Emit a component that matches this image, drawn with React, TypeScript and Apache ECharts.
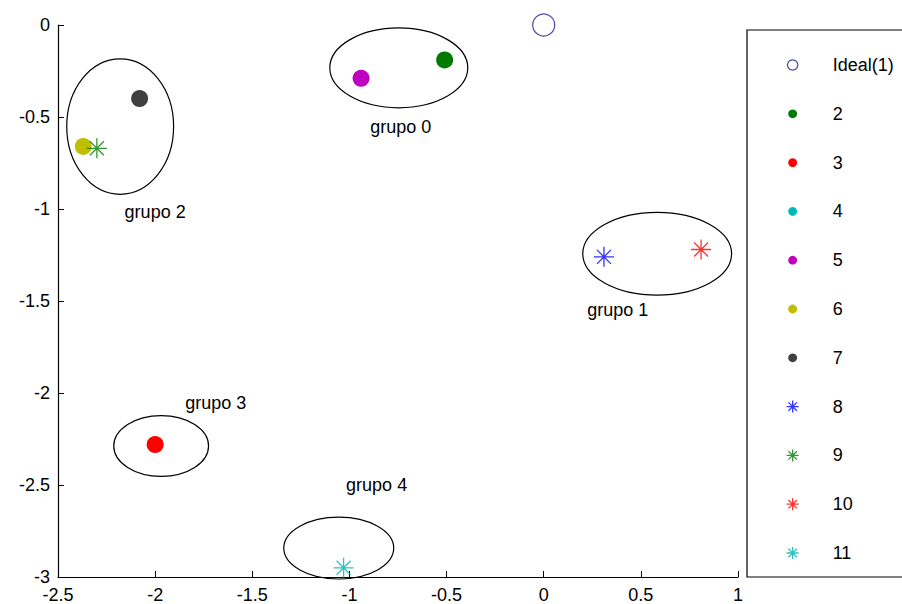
import React, { useEffect, useRef } from "react";
import * as echarts from "echarts";

const seriesNames = ["Ideal(1)", "2", "3", "4", "5", "6", "7", "8", "9", "10", "11"];
const seriesColors = ["#1c1c8c", "#007a00", "#ff0000", "#00b8b8", "#c000c0", "#bfbf00", "#404040", "#0000ff", "#007a00", "#ff0000", "#00b0b0"];
const seriesKinds = ["open", "dot", "dot", "dot", "dot", "dot", "dot", "star", "star", "star", "star"];
const seriesX = [0, -0.51, -2.0, -1.03, -0.94, -2.37, -2.08, 0.31, -2.3, 0.81, -1.03];
const seriesY = [0, -0.19, -2.28, -3.1, -0.29, -0.66, -0.4, -1.26, -0.67, -1.22, -2.95];

const groupLabels = ["grupo 0", "grupo 1", "grupo 2", "grupo 3", "grupo 4"];
const groupCx = [-0.746, 0.584, -2.18, -1.969, -1.055];
const groupCy = [-0.233, -1.243, -0.552, -2.288, -2.843];
const groupRx = [0.355, 0.383, 0.275, 0.244, 0.283];
const groupRy = [0.217, 0.225, 0.368, 0.165, 0.168];
const labelX = [-0.736, 0.381, -2.0, -1.688, -0.86];
const labelY = [-0.552, -1.548, -1.018, -2.052, -2.501];

const xTicks = { min: -2.5, max: 1, interval: 0.5 };
const yTicks = { min: -3, max: 0, interval: 0.5 };

const STAR = "path://M10,0L10,20M0,10L20,10M3,3L17,17M3,17L17,3";
const DOT_ICON = "path://M0,0M12,12M6,1.6A4.4,4.4,0,1,1,5.99,1.6Z";
const OPEN_ICON = "path://M0,0M12,12M6,0.8A5.2,5.2,0,1,1,5.99,0.8Z";
const FONT = "Liberation Sans";

export default function App() {
  const ref = useRef<HTMLDivElement>(null);
  useEffect(() => {
    if (!ref.current) return;
    const chart = echarts.init(ref.current, null, { renderer: "svg" });

    const pointSeries = seriesNames.map((name, i) => {
      const kind = seriesKinds[i];
      const color = seriesColors[i];
      const base: any = {
        name,
        type: "scatter",
        data: [[seriesX[i], seriesY[i]]],
        z: 3,
        clip: true,
      };
      if (kind === "open") {
        base.symbol = "circle";
        base.symbolSize = 22;
        base.itemStyle = { color: "rgba(0,0,0,0)", borderColor: color, borderWidth: 1.2 };
      } else if (kind === "dot") {
        base.symbol = "circle";
        base.symbolSize = 17;
        base.itemStyle = { color, opacity: 1 };
      } else {
        base.symbol = STAR;
        base.symbolSize = 20;
        base.itemStyle = { color: "rgba(0,0,0,0)", borderColor: color, borderWidth: 1.3 };
      }
      return base;
    });

    const legendData = seriesNames.map((name, i) => {
      const kind = seriesKinds[i];
      const color = seriesColors[i];
      if (kind === "open") return { name, icon: OPEN_ICON, itemStyle: { color: "rgba(0,0,0,0)", borderColor: color, borderWidth: 1.2 } };
      if (kind === "dot") return { name, icon: DOT_ICON, itemStyle: { color, borderWidth: 0 } };
      return { name, icon: STAR, itemStyle: { color: "rgba(0,0,0,0)", borderColor: color, borderWidth: 1.3 } };
    });

    const axisCommon = {
      type: "value" as const,
      axisLine: { show: true, onZero: false, lineStyle: { color: "#000", width: 1.2 } },
      axisTick: { show: true, inside: true, length: 6, lineStyle: { color: "#000" } },
      splitLine: { show: false },
      axisLabel: { color: "#000", fontSize: 18, fontFamily: FONT },
    };

    chart.setOption({
      animation: false,
      backgroundColor: "#fff",
      grid: { left: 58, right: 164, top: 25, bottom: 25 },
      xAxis: { ...axisCommon, ...xTicks, axisLabel: { ...axisCommon.axisLabel, margin: 9 } },
      yAxis: { ...axisCommon, ...yTicks, axisLabel: { ...axisCommon.axisLabel, margin: 8 } },
      graphic: [
        {
          type: "rect",
          shape: { x: 747, y: 30, width: 200, height: 547 },
          style: { fill: "#fff", stroke: "#000", lineWidth: 1.2 },
          z: 0,
        },
      ],
      legend: {
        orient: "vertical",
        left: 781,
        top: 51,
        itemWidth: 70,
        itemHeight: 12,
        itemGap: 30.8,
        textStyle: { color: "#000", fontSize: 18, fontFamily: FONT, lineHeight: 18 },
        data: legendData,
        selectedMode: false,
        z: 10,
      },
      series: [
        {
          name: "ellipses",
          type: "custom",
          z: 1,
          data: groupCx.map((cx, i) => [cx, groupCy[i], groupRx[i], groupRy[i]]),
          encode: { x: 0, y: 1 },
          renderItem: (params: any, api: any) => {
            const c = api.coord([api.value(0), api.value(1)]);
            const s = api.size([api.value(2), api.value(3)]);
            return {
              type: "ellipse",
              shape: { cx: c[0], cy: c[1], rx: s[0], ry: s[1] },
              style: { fill: "none", stroke: "#000", lineWidth: 1.2 },
            };
          },
        },
        {
          name: "labels",
          type: "custom",
          z: 2,
          data: labelX.map((x, i) => [x, labelY[i]]),
          encode: { x: 0, y: 1 },
          renderItem: (params: any, api: any) => {
            const c = api.coord([api.value(0), api.value(1)]);
            return {
              type: "text",
              x: c[0],
              y: c[1],
              style: {
                text: groupLabels[params.dataIndex],
                fill: "#000",
                font: `18px "${FONT}"`,
                align: "center",
                verticalAlign: "middle",
              },
            };
          },
        },
        ...pointSeries,
      ],
    });
    return () => chart.dispose();
  }, []);
  return <div ref={ref} style={{ width: 902, height: 604, position: "absolute", left: 0, top: 0 }} />;
}
